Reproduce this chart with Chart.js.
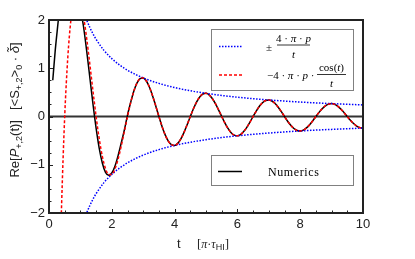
<!DOCTYPE html>
<html><head><meta charset="utf-8">
<script src="https://cdn.jsdelivr.net/npm/chart.js@4/dist/chart.umd.min.js"></script>
<style>html,body{margin:0;padding:0;background:#fff;}#wrap{width:415px;height:259px;}</style>
</head><body><div id="wrap"><canvas id="c" width="415" height="259"></canvas></div>
<script>
// Analytic curve  -4·π·p·cos(t)/t
const tAnalytic = [0.3,0.35,0.4,0.5,0.6,0.7,0.8,0.9,1.0,1.1,1.2,1.3,1.4,1.5,1.6,1.7,1.8,1.9,2.0,2.1,2.2,2.3,2.4,2.5,2.6,2.7,2.8,2.9,
3.0,3.1,3.2,3.3,3.4,3.5,3.6,3.7,3.8,3.9,4.0,4.1,4.2,4.3,4.4,4.5,4.6,4.7,4.8,4.9,5.0,5.1,5.2,5.3,5.4,5.5,5.6,5.7,5.8,5.9,
6.0,6.1,6.2,6.3,6.4,6.5,6.6,6.7,6.8,6.9,7.0,7.1,7.2,7.3,7.4,7.5,7.6,7.7,7.8,7.9,8.0,8.1,8.2,8.3,8.4,8.5,8.6,8.7,8.8,8.9,
9.0,9.1,9.2,9.3,9.4,9.5,9.6,9.7,9.8,9.9,10.0];
const analyticValues = [-4.70,-3.11,-1.854,0,1.236,2.015,2.427,2.536,2.4,2.075,1.618,1.085,0.530,0,-0.464,-0.830,-1.079,-1.201,-1.2,-1.087,-0.883,-0.613,-0.309,0,0.285,0.522,0.693,0.787,
0.8,0.736,0.607,0.427,0.218,0,-0.206,-0.381,-0.511,-0.585,-0.6,-0.557,-0.462,-0.328,-0.169,0,0.161,0.300,0.405,0.466,0.48,0.448,0.373,0.266,0.137,0,-0.132,-0.247,-0.335,-0.387,
-0.4,-0.374,-0.313,-0.224,-0.116,0,0.112,0.211,0.286,0.331,0.343,0.321,0.270,0.193,0.100,0,-0.098,-0.183,-0.249,-0.289,-0.3,-0.282,-0.237,-0.170,-0.088,0,0.086,0.162,0.221,0.256,
0.267,0.251,0.211,0.152,0.079,0,-0.077,-0.145,-0.198,-0.231,-0.24];

// Envelope  ±4·π·p/t
const tEnvelope = [1.0,1.1,1.2,1.3,1.4,1.5,1.75,2.0,2.25,2.5,2.75,3.0,3.5,4.0,4.5,5.0,5.5,6.0,6.5,7.0,7.5,8.0,8.5,9.0,9.5,10.0];
const envelopeValues = [2.4,2.182,2.0,1.846,1.714,1.6,1.371,1.2,1.067,0.96,0.873,0.8,0.686,0.6,0.533,0.48,0.436,0.4,0.369,0.343,0.32,0.3,0.282,0.267,0.253,0.24];

// Numerics
const tNumerics = [0.12,0.2,0.3,0.4,0.6,0.8,1.0,1.1,1.2,1.3,1.4,1.5,1.6,1.7,1.8,1.9,2.0,2.1,2.2,2.3,2.4,2.5,2.6,2.7,2.8,2.9,
3.0,3.1,3.2,3.3,3.4,3.5,3.6,3.7,3.8,3.9,4.0,4.1,4.2,4.3,4.4,4.5,4.6,4.7,4.8,4.9,5.0,5.1,5.2,5.3,5.4,5.5,5.6,5.7,5.8,5.9,
6.0,6.1,6.2,6.3,6.4,6.5,6.6,6.7,6.8,6.9,7.0,7.1,7.2,7.3,7.4,7.5,7.6,7.7,7.8,7.9,8.0,8.1,8.2,8.3,8.4,8.5,8.6,8.7,8.8,8.9,
9.0,9.1,9.2,9.3,9.4,9.5,9.6,9.7,9.8,9.9,10.0];
const numericsValues = [0.75,1.38,2.02,2.7,3.6,3.2,2.26,1.86,1.36,0.81,0.26,-0.24,-0.66,-0.97,-1.16,-1.22,-1.17,-1.03,-0.81,-0.55,-0.28,0.03,0.29,0.525,0.693,0.787,
0.8,0.736,0.607,0.427,0.218,0,-0.206,-0.381,-0.511,-0.585,-0.6,-0.557,-0.462,-0.328,-0.169,0,0.161,0.300,0.405,0.466,0.48,0.448,0.373,0.266,0.137,0,-0.132,-0.247,-0.335,-0.387,
-0.4,-0.374,-0.313,-0.224,-0.116,0,0.112,0.211,0.286,0.331,0.343,0.321,0.270,0.193,0.100,0,-0.098,-0.183,-0.249,-0.289,-0.3,-0.282,-0.237,-0.170,-0.088,0,0.086,0.162,0.221,0.256,
0.267,0.251,0.211,0.152,0.079,0,-0.077,-0.145,-0.198,-0.231,-0.24];

const xTicks = [0,2,4,6,8,10];
const yTicks = [-2,-1,0,1,2];
const xMinorTicks = [0.5,1,1.5,2.5,3,3.5,4.5,5,5.5,6.5,7,7.5,8.5,9,9.5];
const yMinorTicks = [-1.75,-1.5,-1.25,-0.75,-0.5,-0.25,0.25,0.5,0.75,1.25,1.5,1.75];
const zeroLine = [0,10];

const pts = (xs, ys) => xs.map((x,i)=>({x:x, y:ys[i]}));

function drawRich(ctx, segs, x, y) {
  let cx = x;
  for (const s of segs) {
    ctx.font = s.font;
    ctx.fillText(s.text, cx, y + (s.dy||0));
    cx += ctx.measureText(s.text).width + (s.sp||0);
  }
  return cx - x;
}
function richWidth(ctx, segs) {
  let w = 0;
  for (const s of segs) { ctx.font = s.font; w += ctx.measureText(s.text).width + (s.sp||0); }
  return w;
}

const SANS = '"Liberation Sans", Arial, sans-serif';
const SERIF = '"Liberation Serif", "Times New Roman", serif';

const decor = {
  id: 'decor',
  beforeDatasetsDraw(chart) {
    const ctx = chart.ctx, a = chart.chartArea;
    ctx.save();
    ctx.fillStyle = '#fff';
    ctx.fillRect(a.left, a.top, a.right - a.left, a.bottom - a.top);
    ctx.restore();
  },
  afterDraw(chart) {
    const ctx = chart.ctx, a = chart.chartArea;
    const xs = chart.scales.x, ys = chart.scales.y;
    ctx.save();
    // ticks (inward)
    ctx.strokeStyle = '#222';
    ctx.lineWidth = 1;
    ctx.beginPath();
    for (const v of xTicks) { const p = Math.round(xs.getPixelForValue(v)) + 0.5; ctx.moveTo(p, a.bottom); ctx.lineTo(p, a.bottom - 4); }
    for (const v of xMinorTicks) { const p = Math.round(xs.getPixelForValue(v)) + 0.5; ctx.moveTo(p, a.bottom); ctx.lineTo(p, a.bottom - 2.5); }
    for (const v of yTicks) { const p = Math.round(ys.getPixelForValue(v)) + 0.5; ctx.moveTo(a.left, p); ctx.lineTo(a.left + 4, p); }
    for (const v of yMinorTicks) { const p = Math.round(ys.getPixelForValue(v)) + 0.5; ctx.moveTo(a.left, p); ctx.lineTo(a.left + 2.5, p); }
    ctx.stroke();
    // frame
    ctx.lineWidth = 2;
    ctx.strokeStyle = '#222';
    ctx.strokeRect(a.left, a.top, a.right - a.left, a.bottom - a.top);

    // Legend 1
    ctx.fillStyle = '#fff';
    ctx.fillRect(212, 30, 142, 60);
    ctx.lineWidth = 1;
    ctx.strokeStyle = '#808080';
    ctx.strokeRect(211.5, 29.5, 142, 61);
    ctx.lineWidth = 1.5;
    ctx.strokeStyle = '#0000ff';
    ctx.setLineDash([1.5, 1.5]);
    ctx.beginPath(); ctx.moveTo(219, 46.5); ctx.lineTo(242, 46.5); ctx.stroke();
    ctx.strokeStyle = '#ff0000';
    ctx.setLineDash([3, 2]);
    ctx.beginPath(); ctx.moveTo(219, 75); ctx.lineTo(242, 75); ctx.stroke();
    ctx.setLineDash([]);
    ctx.fillStyle = '#000';
    ctx.textBaseline = 'alphabetic';
    ctx.textAlign = 'left';
    // ± 4·π·p / t
    ctx.font = '11px ' + SERIF;
    ctx.fillText('\u00B1', 266, 51);
    const num1 = [{text:'4 \u00B7 ', font:'11px '+SERIF},{text:'\u03C0', font:'italic 11px '+SERIF},{text:' \u00B7 ', font:'11px '+SERIF},{text:'p', font:'italic 11px '+SERIF}];
    let w = richWidth(ctx, num1);
    drawRich(ctx, num1, 293.5 - w/2, 42);
    ctx.lineWidth = 0.8; ctx.strokeStyle = '#000';
    ctx.beginPath(); ctx.moveTo(277, 45); ctx.lineTo(310, 45); ctx.stroke();
    ctx.font = 'italic 11px ' + SERIF;
    ctx.textAlign = 'center';
    ctx.fillText('t', 293.5, 58);
    ctx.textAlign = 'left';
    // −4·π·p·cos(t)/t
    const row2 = [{text:'\u22124 \u00B7 ', font:'11px '+SERIF},{text:'\u03C0', font:'italic 11px '+SERIF},{text:' \u00B7 ', font:'11px '+SERIF},{text:'p', font:'italic 11px '+SERIF},{text:' \u00B7', font:'11px '+SERIF}];
    drawRich(ctx, row2, 267, 79);
    const num2 = [{text:'cos(', font:'11px '+SERIF},{text:'t', font:'italic 11px '+SERIF},{text:')', font:'11px '+SERIF}];
    w = richWidth(ctx, num2);
    drawRich(ctx, num2, 331.5 - w/2, 71);
    ctx.beginPath(); ctx.moveTo(317, 74.5); ctx.lineTo(346, 74.5); ctx.stroke();
    ctx.font = 'italic 11px ' + SERIF;
    ctx.textAlign = 'center';
    ctx.fillText('t', 331.5, 87);
    ctx.textAlign = 'left';

    // Legend 2
    ctx.fillStyle = '#fff';
    ctx.fillRect(212, 156, 142, 30);
    ctx.lineWidth = 1;
    ctx.strokeStyle = '#808080';
    ctx.strokeRect(211.5, 155.5, 142, 30);
    ctx.lineWidth = 1.5;
    ctx.strokeStyle = '#000';
    ctx.beginPath(); ctx.moveTo(218, 171.5); ctx.lineTo(242, 171.5); ctx.stroke();
    ctx.fillStyle = '#000';
    ctx.font = '12px ' + SERIF;
    try { ctx.letterSpacing = '0.6px'; } catch(e) {}
    ctx.fillText('Numerics', 268, 176);
    try { ctx.letterSpacing = '0px'; } catch(e) {}

    // X title
    ctx.fillStyle = '#222';
    ctx.font = '13px ' + SANS;
    ctx.fillText('t', 177, 248);
    const xt = [{text:'[', font:'13px '+SERIF},{text:'\u03C0', font:'italic 12px '+SERIF},{text:'\u00B7', font:'12px '+SERIF},{text:'\u03C4', font:'italic 12px '+SERIF},{text:'HI', font:'9px '+SANS, dy:2},{text:']', font:'13px '+SERIF}];
    drawRich(ctx, xt, 197, 248);

    // Y title (rotated)
    const yt = [
      {text:'Re[', font:'13px '+SANS},
      {text:'P', font:'italic 13px '+SANS},
      {text:'+,2', font:'9px '+SANS, dy:3},
      {text:'(t)]', font:'13px '+SANS, sp:10},
      {text:'[<', font:'13px '+SANS},
      {text:'S', font:'13px '+SANS},
      {text:'+,2', font:'9px '+SANS, dy:3},
      {text:'>', font:'13px '+SANS},
      {text:'0', font:'9px '+SANS, dy:3},
      {text:' \u00B7 ', font:'13px '+SANS},
      {text:'\u03B4\u0303', font:'italic 13px '+SANS},
      {text:']', font:'13px '+SANS}
    ];
    ctx.translate(19, 110);
    ctx.rotate(-Math.PI/2);
    w = richWidth(ctx, yt);
    drawRich(ctx, yt, -w/2, 0);
    ctx.restore();
  }
};

const ch = new Chart(document.getElementById('c'), {
  type: 'line',
  data: {
    datasets: [
      { label: '-4·π·p·cos(t)/t', data: pts(tAnalytic, analyticValues), borderColor: '#ff0000', borderWidth: 1.5, borderDash: [3,2], pointRadius: 0, cubicInterpolationMode: 'monotone', fill: false },
      { label: '+4·π·p/t', data: pts(tEnvelope, envelopeValues), borderColor: '#0000ff', borderWidth: 1.5, borderDash: [1.5,1.5], pointRadius: 0, cubicInterpolationMode: 'monotone', fill: false },
      { label: '-4·π·p/t', data: pts(tEnvelope, envelopeValues.map(v => -v)), borderColor: '#0000ff', borderWidth: 1.5, borderDash: [1.5,1.5], pointRadius: 0, cubicInterpolationMode: 'monotone', fill: false },
      { label: 'Numerics', data: pts(tNumerics, numericsValues), borderColor: '#000', borderWidth: 1.5, pointRadius: 0, cubicInterpolationMode: 'monotone', fill: false },
      { label: 'zero', data: pts(zeroLine, [0,0]), borderColor: '#333', borderWidth: 2, pointRadius: 0, fill: false }
    ]
  },
  options: {
    responsive: false,
    animation: false,
    events: [],
    layout: { padding: { left: 0, right: 52, top: 20, bottom: 0 } },
    plugins: { legend: { display: false }, tooltip: { enabled: false }, title: { display: false } },
    scales: {
      x: {
        type: 'linear', min: 0, max: 10,
        grid: { display: false, drawTicks: false },
        border: { display: false },
        afterBuildTicks: s => { s.ticks = xTicks.map(v => ({ value: v })); },
        afterFit: s => { s.height = 46; },
        ticks: { color: '#222', font: { family: SANS, size: 13 }, padding: 4, maxRotation: 0, autoSkip: false }
      },
      y: {
        type: 'linear', min: -2, max: 2,
        grid: { display: false, drawTicks: false },
        border: { display: false },
        afterBuildTicks: s => { s.ticks = yTicks.map(v => ({ value: v })); },
        afterFit: s => { s.width = 49; },
        ticks: { color: '#222', font: { family: SANS, size: 13 }, padding: 4, autoSkip: false,
          callback: v => (v < 0 ? '\u2212' + Math.abs(v) : String(v)) }
      }
    }
  },
  plugins: [decor]
});
</script>
</body></html>
